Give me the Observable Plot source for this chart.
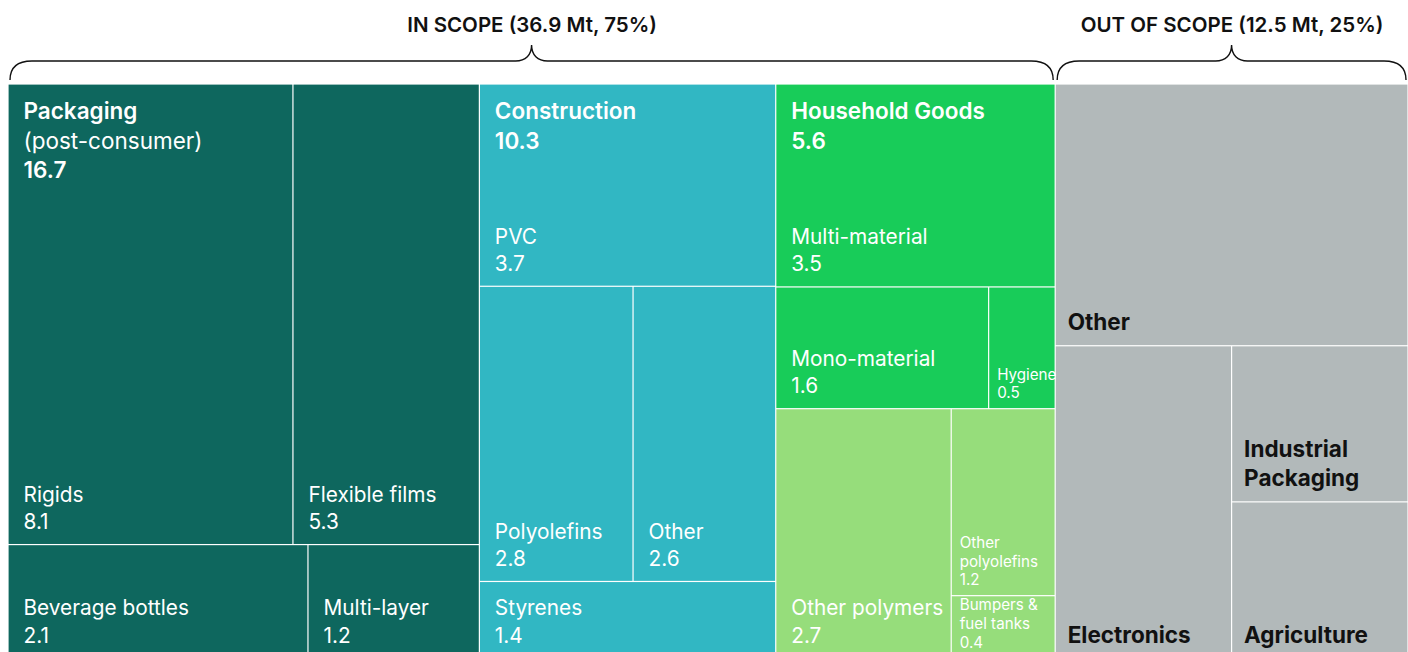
<!DOCTYPE html>
<html><head><meta charset="utf-8">
<script src="https://cdn.jsdelivr.net/npm/d3@7"></script>
<script src="https://cdn.jsdelivr.net/npm/@observablehq/plot@0.6"></script>
<style>
body{margin:0;background:#fff;}
#chart svg{display:block;font-family:Inter,"Noto Sans",sans-serif;}
</style></head><body><div id="chart"></div>
<script>
// ---- data ----
const scopeNames = ["IN SCOPE", "OUT OF SCOPE"];
const scopeTonnes = [36.9, 12.5];
const scopeShares = [75, 25];
const scopeSectors = [[0, 1, 2, 3], [4]];

const sectorNames = ["Packaging", "Construction", "Household Goods", "Automotive", "Out of scope"];
const sectorNotes = ["(post-consumer)", "", "", "", ""];
const sectorTotals = [16.7, 10.3, 5.6, 4.3, 12.5];
const sectorShowHeader = [true, true, true, false, false];
const sectorColors = ["#0e675e", "#31b7c3", "#18cc59", "#96dd7b", "#b2b9ba"];

const leafNames = ["Rigids", "Flexible films", "Beverage bottles", "Multi-layer",
  "PVC", "Polyolefins", "Other", "Styrenes",
  "Multi-material", "Mono-material", "Hygiene",
  "Other polymers", "Other\npolyolefins", "Bumpers &\nfuel tanks",
  "Other", "Electronics", "Industrial\nPackaging", "Agriculture"];
const leafValues = [8.1, 5.3, 2.1, 1.2, 3.7, 2.8, 2.6, 1.4, 3.5, 1.6, 0.5, 2.7, 1.2, 0.4, 5.7, 3.4, 1.7, 1.7];
const leafSector = [0, 0, 0, 0, 1, 1, 1, 1, 2, 2, 2, 3, 3, 3, 4, 4, 4, 4];
const leafShowValue = [1, 1, 1, 1, 1, 1, 1, 1, 1, 1, 1, 1, 1, 1, 0, 0, 0, 0];

// tiling structure (h = side by side, v = stacked), leaves referenced by index
const tiling = {dir: "h", children: [
  {dir: "h", children: [
    {dir: "v", children: [{dir: "h", children: [0, 1]}, {dir: "h", children: [2, 3]}]},
    {dir: "v", children: [4, {dir: "h", children: [5, 6]}, 7]},
    {dir: "v", children: [8, {dir: "h", children: [9, 10]}, {dir: "h", children: [11, {dir: "v", children: [12, 13]}]}]}
  ]},
  {dir: "v", children: [14, {dir: "h", children: [15, {dir: "v", children: [16, 17]}]}]}
]};

// ---- layout (slice/dice proportional to values) ----
function total(n) { return typeof n === "number" ? leafValues[n] : d3.sum(n.children, total); }
function tile(n, x0, y0, x1, y1, out) {
  if (typeof n === "number") { out.push({i: n, x0, y0, x1, y1}); return out; }
  const t = total(n); let acc = 0;
  for (const c of n.children) {
    const v = total(c), a = acc / t, b = (acc + v) / t; acc += v;
    if (n.dir === "h") tile(c, x0 + (x1 - x0) * a, y0, x0 + (x1 - x0) * b, y1, out);
    else tile(c, x0, y0 + (y1 - y0) * a, x1, y0 + (y1 - y0) * b, out);
  }
  return out;
}
const cells = tile(tiling, 0, 0, 1, 1, []).map(c => ({
  ...c, sector: leafSector[c.i], name: leafNames[c.i], value: leafValues[c.i],
  fill: sectorColors[leafSector[c.i]]
}));

const W = 1408, H = 652;
const xRange = [8, 1408], yRange = [84, 658];
const pxW = c => (c.x1 - c.x0) * (xRange[1] - xRange[0]);

const sectors = sectorNames.map((name, s) => {
  const cs = cells.filter(c => c.sector === s);
  return {s, name, x0: d3.min(cs, c => c.x0), y0: d3.min(cs, c => c.y0), x1: d3.max(cs, c => c.x1)};
});
const scopes = scopeNames.map((name, k) => {
  const cs = cells.filter(c => scopeSectors[k].includes(c.sector));
  return {name, label: `${name} (${scopeTonnes[k]} Mt, ${scopeShares[k]}%)`,
    x0: d3.min(cs, c => c.x0), x1: d3.max(cs, c => c.x1)};
});

const inLeaves = cells.filter(c => leafShowValue[c.i]);
const bigLeaves = inLeaves.filter(c => pxW(c) >= 130);
const smallLeaves = inLeaves.filter(c => pxW(c) < 130);
const outLeaves = cells.filter(c => !leafShowValue[c.i]);

// header lines
const headerLines = [];
sectors.forEach(d => {
  if (!sectorShowHeader[d.s]) return;
  const lines = [{t: d.name, bold: true}];
  if (sectorNotes[d.s]) lines.push({t: sectorNotes[d.s], bold: false});
  lines.push({t: String(sectorTotals[d.s]), bold: true});
  lines.forEach((l, k) => headerLines.push({...l, k, x: d.x0, y: d.y0}));
});
const headerMarks = [0, 1, 2].flatMap(k => [true, false].map(bold =>
  Plot.text(headerLines.filter(l => l.k === k && l.bold === bold), {
    x: "x", y: "y", text: "t", fill: "#fff", textAnchor: "start", lineAnchor: "top",
    dx: 15, dy: 19 + k * 29.5, fontSize: 22.5, fontWeight: bold ? 600 : 400
  })));

// curly braces over each scope
function braces(index, scales) {
  const g = d3.create("svg:g");
  scopes.forEach(s => {
    const x0 = scales.x(s.x0) + 2, x1 = Math.min(scales.x(s.x1) - 2, W - 1), xm = (x0 + x1) / 2;
    const yb = 80, yl = 61, yt = 45;
    const d = `M${x0},${yb} C${x0},${yl + 7} ${x0 + 6},${yl} ${x0 + 22},${yl} L${xm - 16},${yl} ` +
      `C${xm - 6},${yl} ${xm},${yl - 6} ${xm},${yt} C${xm},${yl - 6} ${xm + 6},${yl} ${xm + 16},${yl} ` +
      `L${x1 - 22},${yl} C${x1 - 6},${yl} ${x1},${yl + 7} ${x1},${yb}`;
    g.append("path").attr("d", d).attr("fill", "none").attr("stroke", "#111").attr("stroke-width", 1.4);
  });
  return g.node();
}

const chart = Plot.plot({
  width: W, height: H, margin: 0,
  x: {domain: [0, 1], range: xRange, axis: null},
  y: {domain: [0, 1], range: yRange, axis: null},
  color: {type: "identity"},
  marks: [
    Plot.rect(cells, {x1: "x0", x2: "x1", y1: "y0", y2: "y1", fill: "fill", inset: 0.6}),
    ...headerMarks,
    Plot.text(bigLeaves, {x: "x0", y: "y1", text: d => `${d.name}\n${d.value}`, fill: "#fff",
      textAnchor: "start", lineAnchor: "bottom", dx: 15, dy: -16, fontSize: 20.8, lineHeight: 1.3}),
    Plot.text(smallLeaves, {x: "x0", y: "y1", text: d => `${d.name}\n${d.value}`, fill: "#fff",
      textAnchor: "start", lineAnchor: "bottom", dx: 8, dy: -11, fontSize: 15.2, lineHeight: 1.22}),
    Plot.text(outLeaves, {x: "x0", y: "y1", text: "name", fill: "#111",
      textAnchor: "start", lineAnchor: "bottom", dx: 12, dy: -16, fontSize: 22.5, fontWeight: 700, lineHeight: 1.3}),
    Plot.text(scopes, {x: d => (d.x0 + d.x1) / 2, text: "label", frameAnchor: "top", dy: 17,
      fontSize: 20.5, fontWeight: 600, fill: "#111"}),
    braces
  ]
});
document.getElementById("chart").append(chart);
</script></body></html>
